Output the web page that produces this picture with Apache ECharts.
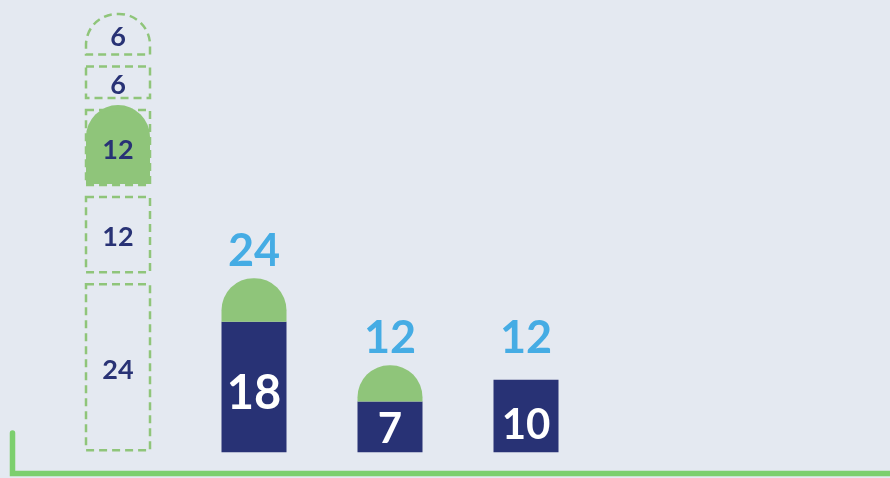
<!DOCTYPE html>
<html>
<head>
<meta charset="utf-8">
<script src="https://cdn.jsdelivr.net/npm/echarts@6/dist/echarts.min.js"></script>
<style>
  html, body { margin: 0; padding: 0; background: #e4e9f1; }
  #chart { width: 890px; height: 478px; }
</style>
</head>
<body>
<div id="chart"></div>
<script>
// 分类（不显示标签）
const categories = ['A', 'B', 'C', 'D', 'E', 'F']
// 第一列：虚线块，从下往上
const stackValues = [24, 12, 12, 6, 6]
const filledIndex = 2
// 其余列
const baseValues = ['-', 18, 7, 10, '-', '-']
const topValues = ['-', 6, 5, 0, '-', '-']
const totalValues = ['-', 24, 12, 12, '-', '-']

const NAVY = '#283275'
const GREEN = '#8fc57a'
const BLUE = '#45ace4'
const FONT = 'Lato'

// 第一列累加出每块的起止值
let acc = 0
const stackData = stackValues.map((v, i) => {
    const item = [0, acc, acc + v, v, i]
    acc += v
    return item
})

function renderStack(params, api) {
    const idx = api.value(4)
    const last = stackValues.length - 1
    const lo = api.coord([api.value(0), api.value(1)])
    const hi = api.coord([api.value(0), api.value(2)])
    const w = 64
    const x = lo[0] - w / 2
    const bottom = idx === 0 ? lo[1] - 2 : lo[1] - 6
    const top = idx === last ? hi[1] - 3 : hi[1] + 6
    const children = []
    if (idx === filledIndex) {
        children.push({
            type: 'rect',
            shape: { x: x, y: top - 5, width: w, height: bottom - top + 4, r: [32, 32, 0, 0] },
            style: { fill: GREEN }
        })
    }
    children.push({
        type: 'rect',
        shape: { x: x, y: top, width: w, height: bottom - top, r: idx === last ? [31, 31, 0, 0] : 0 },
        style: { fill: 'none', stroke: GREEN, lineWidth: 2.5, lineDash: [8, 5] }
    })
    children.push({
        type: 'text',
        style: {
            text: String(api.value(3)),
            x: lo[0],
            y: (top + bottom) / 2 + 3,
            align: 'center',
            verticalAlign: 'middle',
            fill: NAVY,
            fontSize: 27,
            fontWeight: 'bold',
            fontFamily: FONT
        }
    })
    return { type: 'group', children: children }
}

const chart = echarts.init(document.getElementById('chart'))
chart.setOption({
    backgroundColor: '#e4e9f1',
    animation: false,
    grid: { left: 50, right: 24, top: 17, bottom: 4 },
    xAxis: {
        type: 'category',
        data: categories,
        show: false
    },
    yAxis: {
        type: 'value',
        min: -3,
        max: 60,
        show: false
    },
    graphic: [{
        type: 'polyline',
        shape: { points: [[12.5, 433], [12.5, 473.5], [892, 473.5]] },
        style: { stroke: '#7ccf6e', lineWidth: 5.5, fill: 'none', lineCap: 'round' },
        z: 10
    }],
    series: [
        {
            type: 'custom',
            renderItem: renderStack,
            data: stackData,
            z: 3
        },
        {
            type: 'bar',
            stack: 'col',
            barWidth: 65,
            data: baseValues.map((v, i) => ({
                value: v,
                label: {
                    fontSize: i === 1 ? 47 : 42,
                    offset: [0, i === 1 ? 7 : i === 3 ? 9 : 3]
                }
            })),
            itemStyle: { color: NAVY },
            label: {
                show: true,
                position: 'inside',
                color: '#fff',
                fontWeight: 'bold',
                fontFamily: FONT
            }
        },
        {
            type: 'bar',
            stack: 'col',
            barWidth: 65,
            data: topValues,
            itemStyle: { color: GREEN, borderRadius: [32, 32, 0, 0] }
        },
        {
            type: 'bar',
            barWidth: 65,
            barGap: '-100%',
            data: totalValues,
            itemStyle: { color: 'rgba(0,0,0,0)' },
            label: {
                show: true,
                position: 'top',
                distance: 4,
                color: BLUE,
                fontSize: 45,
                fontWeight: 'bold',
                fontFamily: FONT
            },
            z: 1
        }
    ]
})
</script>
</body>
</html>
